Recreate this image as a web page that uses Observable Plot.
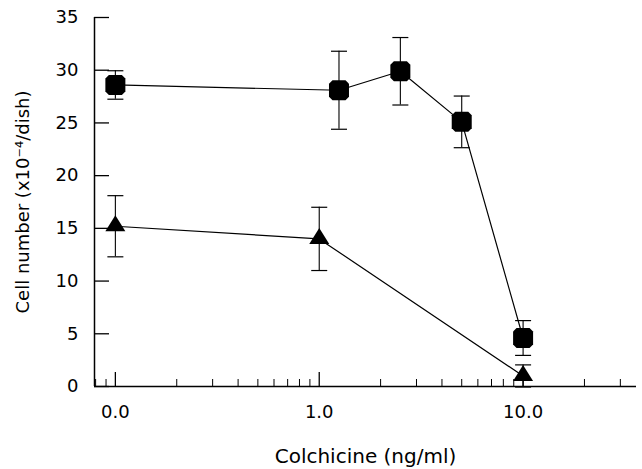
<!DOCTYPE html>
<html>
<head>
<meta charset="utf-8">
<script src="https://cdn.jsdelivr.net/npm/d3@7"></script>
<script src="https://cdn.jsdelivr.net/npm/@observablehq/plot@0.6"></script>
<style>
  body { margin: 0; background: #fff; }
  #chart svg { font-family: "DejaVu Sans", sans-serif; color: #000; background: #fff; }
  #chart svg [aria-label="x-axis label"] text { font-size: 20px; }
</style>
</head>
<body>
<div id="chart"></div>
<script>
// Colchicine dose (0 dose drawn at the 0.1 position, labelled "0.0")
const squareDose = [0.1, 1.25, 2.5, 5, 10];
const squareMean = [28.6, 28.1, 29.9, 25.1, 4.6];
const squareErr  = [1.35, 3.7, 3.2, 2.45, 1.65];

const triangleDose = [0.1, 1, 10];
const triangleMean = [15.2, 14.0, 1.0];
const triangleErr  = [2.9, 3.0, 1.05];

const xDomain = [0.079, 36];
const xMajorTicks = [0.1, 1, 10];
const xMajorLabels = ["0.0", "1.0", "10.0"];
const xMinorTicks = [0.08, 0.09, 0.2, 0.3, 0.4, 0.5, 0.6, 0.7, 0.8, 0.9,
                     2, 3, 4, 5, 6, 7, 8, 9, 20, 30];
const yTicks = [0, 5, 10, 15, 20, 25, 30, 35];

const squares = squareDose.map((d, i) => ({dose: d, mean: squareMean[i], err: squareErr[i]}));
const triangles = triangleDose.map((d, i) => ({dose: d, mean: triangleMean[i], err: triangleErr[i]}));

const W = 642, H = 469, mL = 94, mR = 6, mT = 17, mB = 83;
const plotW = W - mL - mR, plotH = H - mT - mB;

// custom symbols
const roundedSquare = {
  draw(ctx, size) {
    const s = Math.sqrt(size / Math.PI), c = s * 0.35;
    ctx.moveTo(-s + c, -s);
    ctx.lineTo(s - c, -s); ctx.lineTo(s, -s + c);
    ctx.lineTo(s, s - c); ctx.lineTo(s - c, s);
    ctx.lineTo(-s + c, s); ctx.lineTo(-s, s - c);
    ctx.lineTo(-s, -s + c); ctx.closePath();
  }
};
const tri = {
  draw(ctx, size) {
    const s = Math.sqrt(size / Math.PI);
    ctx.moveTo(0, -1.1 * s);
    ctx.lineTo(s, 0.5 * s);
    ctx.lineTo(-s, 0.5 * s);
    ctx.closePath();
  }
};
const cap = {
  draw(ctx, size) {
    const s = Math.sqrt(size / Math.PI);
    ctx.moveTo(-s, 0); ctx.lineTo(s, 0);
  }
};

const errMarks = (data) => [
  Plot.ruleX(data, {x: "dose", y1: d => d.mean - d.err, y2: d => d.mean + d.err, stroke: "black", strokeWidth: 1.1}),
  Plot.dot(data, {x: "dose", y: d => d.mean + d.err, symbol: cap, r: 8, fill: "none", stroke: "black", strokeWidth: 1.2}),
  Plot.dot(data, {x: "dose", y: d => d.mean - d.err, symbol: cap, r: 8, fill: "none", stroke: "black", strokeWidth: 1.2})
];

const chart = Plot.plot({
  width: W, height: H,
  marginLeft: mL, marginRight: mR, marginTop: mT, marginBottom: mB,
  x: {type: "log", domain: xDomain},
  y: {domain: [0, 35]},
  marks: [
    // axis lines
    Plot.ruleY([0], {stroke: "black", strokeWidth: 1.5}),
    Plot.ruleX([xDomain[0]], {stroke: "black", strokeWidth: 1.5}),
    // inward ticks
    Plot.tickY(yTicks, {y: d => d, insetRight: plotW - 15, stroke: "black", strokeWidth: 1.3}),
    Plot.tickX(xMajorTicks, {x: d => d, insetTop: plotH - 14, stroke: "black", strokeWidth: 1.3}),
    Plot.tickX(xMinorTicks, {x: d => d, insetTop: plotH - 7, stroke: "black", strokeWidth: 1}),
    // tick labels and axis titles
    Plot.axisX(xMajorTicks, {
      tickSize: 0, tickPadding: 19, fontSize: 18,
      tickFormat: d => xMajorLabels[xMajorTicks.indexOf(d)],
      label: "Colchicine (ng/ml)", labelAnchor: "center", labelOffset: 76, labelArrow: "none"
    }),
    Plot.axisY(yTicks, {
      tickSize: 0, tickPadding: 16, fontSize: 18,
      label: "Cell number (x10\u207B\u2074/dish)", labelAnchor: "center", labelOffset: 78, labelArrow: "none"
    }),
    // series lines
    Plot.line(squares, {x: "dose", y: "mean", stroke: "black", strokeWidth: 1.2}),
    Plot.line(triangles, {x: "dose", y: "mean", stroke: "black", strokeWidth: 1.2}),
    // error bars
    ...errMarks(squares),
    ...errMarks(triangles),
    // markers
    Plot.dot(squares, {x: "dose", y: "mean", symbol: roundedSquare, r: 10, fill: "black", stroke: "none"}),
    Plot.dot(triangles, {x: "dose", y: "mean", symbol: tri, r: 10, fill: "black", stroke: "none"})
  ]
});
document.getElementById("chart").appendChild(chart);
</script>
</body>
</html>
